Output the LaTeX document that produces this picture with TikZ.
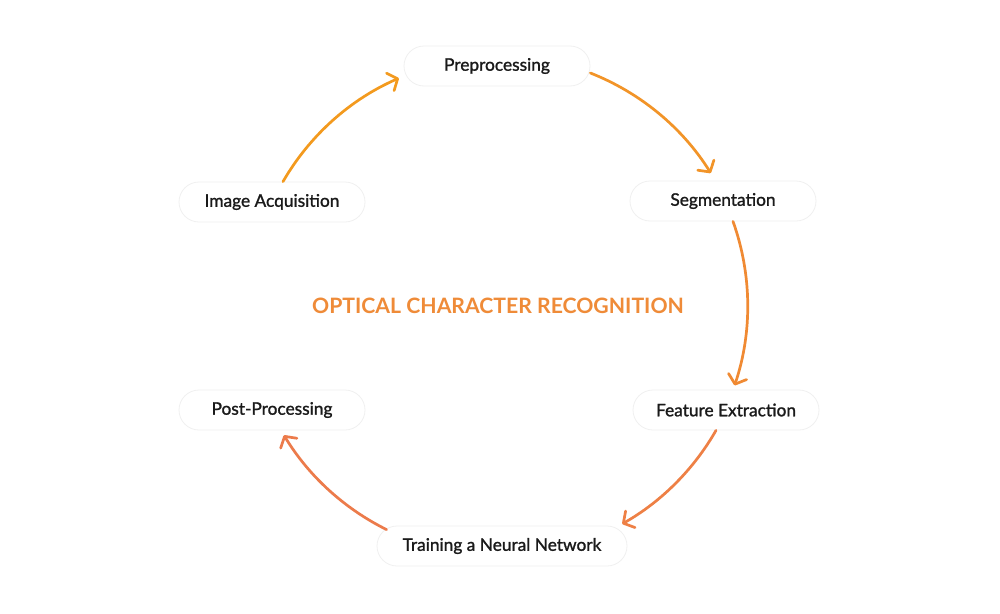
\documentclass[tikz,border=0pt]{standalone}
\usepackage{fontspec}
\setmainfont{Lato}
\newfontfamily\pillfont[FakeBold=1.3]{Lato}
\usetikzlibrary{arrows.meta}
\definecolor{ocA}{HTML}{F39A1E}
\definecolor{ocB}{HTML}{F29428}
\definecolor{ocC}{HTML}{F08A33}
\definecolor{ocD}{HTML}{EE8045}
\definecolor{ocE}{HTML}{EC7B4B}
\definecolor{titlec}{HTML}{EF8B38}
\definecolor{txt}{HTML}{1A1A1A}
\tikzset{
  pill/.style={draw=black!6, line width=0.8pt, fill=white, rounded corners=20pt,
    minimum height=40pt, minimum width=186pt, inner sep=0pt, text=txt,
    font=\pillfont\fontsize{17.3}{20}\selectfont},
  arr/.style={line width=2.7pt, line cap=round, -{Straight Barb[length=8pt,width=19pt,line width=2.7pt,round]}}
}
\begin{document}
\begin{tikzpicture}[x=1pt,y=-1pt]
\useasboundingbox (0,0) rectangle (1000,613);
\fill[white] (0,0) rectangle (1000,613);
\node[pill] (pre) at (497,66) {Preprocessing};
\node[pill] (ia) at (272,202) {Image Acquisition};
\node[pill] (seg) at (723,201) {Segmentation};
\node[pill] (fe) at (726,410) {Feature Extraction};
\node[pill] (pp) at (272,410) {Post-Processing};
\node[pill, minimum width=250pt] (tr) at (502,546) {Training a Neural Network};
\node[text=titlec, font=\fontsize{21.2}{24}\selectfont\bfseries] (title) at (498,306) {OPTICAL CHARACTER RECOGNITION};
\draw[arr, ocA] ([xshift=11pt]ia.north) arc[start angle=210, end angle=246.5, radius=248];
\draw[arr, ocB] ([yshift=-7pt]pre.east) arc[start angle=291.5, end angle=328, radius=250];
\draw[arr, ocC] ([xshift=10pt]seg.south) arc[start angle=340.3, end angle=378.6, radius=250];
\draw[arr, ocD] ([xshift=-10pt]fe.south) arc[start angle=29.8, end angle=60.4, radius=251];
\draw[arr, ocE] ([xshift=10pt,yshift=-4pt]tr.north west) arc[start angle=116.4, end angle=148.8, radius=250];
\end{tikzpicture}
\end{document}
